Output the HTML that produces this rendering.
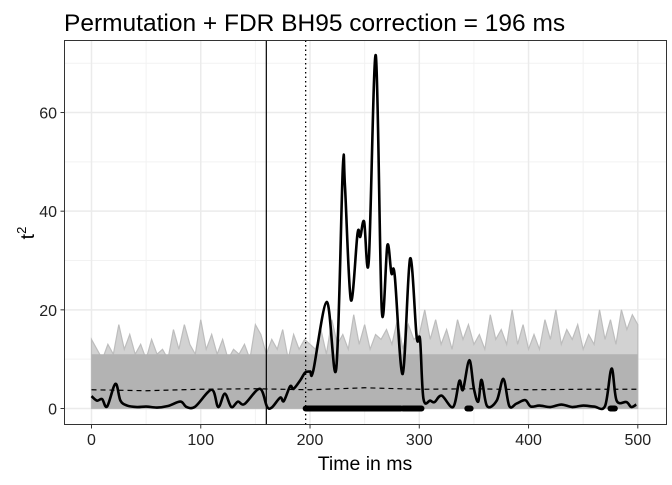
<!DOCTYPE html>
<html><head><meta charset="utf-8"><style>
body{margin:0;background:#fff}
svg text{font-family:"Liberation Sans",Arial,sans-serif}
</style></head><body>
<svg id="chart" width="672" height="480">
<text x="64" y="31" font-size="24.5" fill="#000">Permutation + FDR BH95 correction = 196 ms</text>
<g id="grid"></g>
<g id="marks"></g>
<rect x="64.5" y="40.5" width="602" height="384" fill="none" stroke="#333" stroke-width="1"/>
<g id="axes"></g>
<text x="365" y="470" font-size="19.5" text-anchor="middle">Time in ms</text>
<text transform="translate(34,233) rotate(-90)" font-size="19.5" text-anchor="middle">t<tspan dy="-8" font-size="13">2</tspan></text>
</svg>
<script>
const xTicks=[0,100,200,300,400,500];
const yTicks=[0,20,40,60];
const curveT=[0,5,9.7,14.3,21.9,26.5,32.6,41.7,50,60,70,81.4,87,95,110,116,122,128,134,140,154,160.6,165,172.7,176,181.8,185,191,195.6,200,203,215.4,224,230,232,237.4,243.5,246,249.5,253.8,260.2,265.7,270.8,274.5,277.5,284.8,291.6,297.6,300.7,303.8,310,314,320.5,331,336.7,340,345.8,350,354,357,362,370.9,377,382.4,389,397,402,410,420,430,440,450,460,470,476,480.6,489.7,494,498.6];
const curveV=[2.5,1.6,1.9,0.4,5.0,1.6,0.6,0.3,0.4,0.2,0.5,1.4,0.3,0.4,3.8,0.3,3.0,0.3,1.4,0.9,4.0,0.4,0.2,2.2,1.5,4.5,4.0,5.7,7.3,7.5,7.7,21.6,8.1,48.7,45,22,35.5,34.8,37.9,30,71.6,19.9,33.1,27.4,27,7.0,30.4,14.5,14,2.0,1.6,1.3,2.6,0.3,5.6,3.8,9.8,4,1.4,5.8,0.5,1.6,6.0,0.5,1.0,1.7,0.4,0.6,0.3,0.8,0.3,0.6,0.4,0.5,8.1,1.6,1.3,0.3,0.8];
const threshT=[0,50,100,150,200,250,300,350,400,450,500];
const threshV=[3.8,3.6,3.9,4.0,3.8,4.2,3.9,4.0,3.8,3.9,3.9];
const permT=[0,5,10,15,20,25,30,35,40,45,50,55,60,65,70,75,80,85,90,95,100,105,110,115,120,125,130,135,140,145,150,155,160,165,170,175,180,185,190,195,200,205,210,215,220,225,230,235,240,245,250,255,260,265,270,275,280,285,290,295,300,305,310,315,320,325,330,335,340,345,350,355,360,365,370,375,380,385,390,395,400,405,410,415,420,425,430,435,440,445,450,455,460,465,470,475,480,485,490,495,500];
const permV=[14,12,10,13,11,17,12,15,11,13,10,14,11,12,10,16,12,17,13,11,18,12,15,11,14,10,12,11,13,10,17,15,11,14,12,16,10,15,12,14,13,12,16,11,18,13,15,12,19,13,17,12,15,14,16,13,18,12,17,14,15,20,14,18,13,16,12,18,14,17,13,15,12,19,14,16,13,20,13,17,12,15,12,18,14,20,13,16,14,17,12,15,13,20,14,18,13,20,16,19,17];
const sigStart=[196,285,344,475];
const sigEnd=[283,302,347,479];
const onsetLine=160, fdrLine=196;

const X=t=>91.5+t*1.0926, Y=v=>408.5-v*4.933;
const NS='http://www.w3.org/2000/svg';
function mk(tag,parent,attrs){const e=document.createElementNS(NS,tag);for(const k in attrs)e.setAttribute(k,attrs[k]);document.getElementById(parent).appendChild(e);return e;}
function smooth(pts){let d='M'+pts[0][0]+','+pts[0][1];
for(let i=0;i<pts.length-1;i++){const p0=pts[Math.max(i-1,0)],p1=pts[i],p2=pts[i+1],p3=pts[Math.min(i+2,pts.length-1)];
const c1x=p1[0]+(p2[0]-p0[0])/6,c1y=p1[1]+(p2[1]-p0[1])/6,c2x=p2[0]-(p3[0]-p1[0])/6,c2y=p2[1]-(p3[1]-p1[1])/6;
d+=' C'+c1x+','+c1y+' '+c2x+','+c2y+' '+p2[0]+','+p2[1];}return d;}
[50,150,250,350,450].forEach(t=>{const e=mk('line','grid',{x1:X(t),x2:X(t),y1:40.5,y2:424.5,stroke:'#f2f2f2','stroke-width':1});

});
[10,30,50,70].forEach(v=>{const e=mk('line','grid',{x1:64.5,x2:666.5,y1:Y(v),y2:Y(v),stroke:'#f2f2f2','stroke-width':1});

});
xTicks.forEach(t=>{const e=mk('line','grid',{x1:X(t),x2:X(t),y1:40.5,y2:424.5,stroke:'#ebebeb','stroke-width':1.5});

});
yTicks.forEach(v=>{const e=mk('line','grid',{x1:64.5,x2:666.5,y1:Y(v),y2:Y(v),stroke:'#ebebeb','stroke-width':1.5});

});
let d='M'+X(permT[0])+','+Y(0);
permT.forEach((t,i)=>{d+=' L'+X(t)+','+Y(permV[i]);});
d+=' L'+X(permT[permT.length-1])+','+Y(0)+'Z';
const band=mk('path','marks',{d:d,fill:'#d2d2d2',stroke:'#bdbdbd','stroke-width':1.2});


const core=mk('rect','marks',{x:X(0),y:Y(11),width:X(500)-X(0),height:Y(0)-Y(11),fill:'#b3b3b3'});


const th=mk('polyline','marks',{points:threshT.map((t,i)=>X(t)+','+Y(threshV[i])).join(' '),fill:'none',stroke:'#000','stroke-width':1.2,'stroke-dasharray':'5,4'});


const v1=mk('line','marks',{x1:X(onsetLine),x2:X(onsetLine),y1:40.5,y2:424.5,stroke:'#000','stroke-width':1.2});


const v2=mk('line','marks',{x1:X(fdrLine),x2:X(fdrLine),y1:40.5,y2:424.5,stroke:'#000','stroke-width':1.3,'stroke-dasharray':'1.5,3'});


const c=mk('path','marks',{d:smooth(curveT.map((t,i)=>[X(t),Y(curveV[i])])),fill:'none',stroke:'#000','stroke-width':2.6,'stroke-linejoin':'round'});


sigStart.forEach((s,i)=>{const e=mk('line','marks',{x1:X(s),x2:X(sigEnd[i]),y1:Y(0),y2:Y(0),stroke:'#000','stroke-width':6,'stroke-linecap':'round'});

});
xTicks.forEach(t=>{const l=mk('line','axes',{x1:X(t),x2:X(t),y1:424.5,y2:428.5,stroke:'#333'});


const e=mk('text','axes',{x:X(t),y:445,'font-size':16,'text-anchor':'middle',fill:'#222'});e.textContent=t;

});
yTicks.forEach(v=>{const l=mk('line','axes',{x1:60.5,x2:64.5,y1:Y(v),y2:Y(v),stroke:'#333'});


const e=mk('text','axes',{x:57,y:Y(v)+6,'font-size':16,'text-anchor':'end',fill:'#222'});e.textContent=v;

});
</script>
</body></html>
